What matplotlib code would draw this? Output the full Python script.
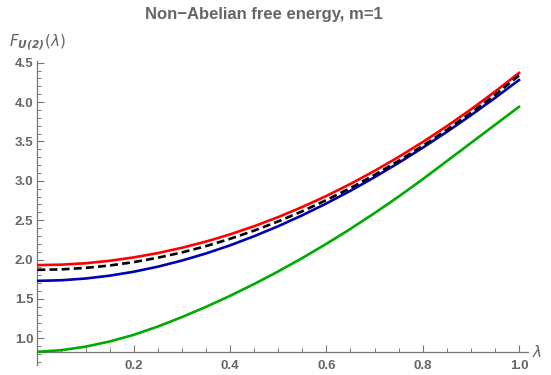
import matplotlib
matplotlib.use("Agg")
import matplotlib.pyplot as plt
from matplotlib.ticker import MultipleLocator, FixedLocator

lam = [0.0, 0.05, 0.1, 0.15, 0.2, 0.25, 0.3, 0.35, 0.4, 0.45, 0.5,
       0.55, 0.6, 0.65, 0.7, 0.75, 0.8, 0.85, 0.9, 0.95, 1.0]
red_vals = [1.93, 1.936, 1.954, 1.985, 2.028, 2.083, 2.15, 2.229, 2.32, 2.424, 2.54,
            2.668, 2.808, 2.961, 3.126, 3.303, 3.492, 3.693, 3.906, 4.132, 4.37]
black_vals = [1.87, 1.876, 1.895, 1.925, 1.968, 2.024, 2.091, 2.171, 2.264, 2.368, 2.485,
              2.614, 2.756, 2.909, 3.075, 3.254, 3.444, 3.647, 3.863, 4.09, 4.338]
blue_vals = [1.73, 1.738, 1.76, 1.796, 1.846, 1.91, 1.988, 2.078, 2.181, 2.297, 2.424,
             2.563, 2.713, 2.874, 3.046, 3.228, 3.42, 3.621, 3.832, 4.052, 4.28]
green_vals = [0.83, 0.85, 0.895, 0.96, 1.045, 1.15, 1.27, 1.40, 1.54, 1.69, 1.85,
              2.02, 2.20, 2.39, 2.59, 2.80, 3.02, 3.25, 3.48, 3.71, 3.94]

xticks = [0.2, 0.4, 0.6, 0.8, 1.0]
xticklabels = ["0.2", "0.4", "0.6", "0.8", "1.0"]
yticks = [1.0, 1.5, 2.0, 2.5, 3.0, 3.5, 4.0, 4.5]
yticklabels = ["1.0", "1.5", "2.0", "2.5", "3.0", "3.5", "4.0", "4.5"]

title = "Non\u2212Abelian free energy, m=1"
gray = "#666666"
axcol = "#777777"

fig = plt.figure(figsize=(5.51, 3.75), dpi=100)
ax = fig.add_axes([37.4 / 551, 1 - 365 / 375, (528 - 37.4) / 551, (365 - 61) / 375])
ax.set_xlim(0, (528 - 37.4) / 481.6)
ylo = 1.0 - (365 - 338.3) / 79.0
yhi = 4.5 + (62.7 - 61) / 79.0
ax.set_ylim(ylo, yhi)

lw = 1.9
ax.plot(lam, red_vals, color="#FF0000", lw=lw, zorder=3)
ax.plot(lam, blue_vals, color="#0000B4", lw=lw, zorder=3)
ax.plot(lam, black_vals, color="black", lw=lw, dashes=(3.0, 1.6), zorder=4)
ax.plot(lam, green_vals, color="#00AA00", lw=lw, zorder=3)

for s in ["top", "right"]:
    ax.spines[s].set_visible(False)
ax.spines["bottom"].set_position(("data", 0.827))
ax.spines["left"].set_position(("data", 0.0))
for s in ["bottom", "left"]:
    ax.spines[s].set_color(axcol)
    ax.spines[s].set_linewidth(0.9)
ax.spines["left"].set_bounds(ylo, yhi)

ax.xaxis.set_major_locator(FixedLocator(xticks))
ax.set_xticklabels(xticklabels)
ax.xaxis.set_minor_locator(MultipleLocator(0.05))
ax.yaxis.set_major_locator(FixedLocator(yticks))
ax.set_yticklabels(yticklabels)
ax.yaxis.set_minor_locator(MultipleLocator(0.1))

ax.tick_params(axis="both", which="major", direction="in", length=5, width=0.8,
               color=axcol, labelcolor=gray, labelsize=9.5)
ax.tick_params(axis="both", which="minor", direction="in", length=3, width=0.7, color=axcol)
ax.tick_params(axis="x", which="major", pad=6)
ax.tick_params(axis="y", which="major", pad=3)
for lab in ax.get_xticklabels() + ax.get_yticklabels():
    lab.set_fontweight("bold")
    lab.set_fontfamily("Liberation Sans")

fig.text(0.5 * (143 + 385) / 551, 1 - 15 / 375, title, ha="center", va="center",
         fontsize=12, fontweight="bold", color=gray, family="Liberation Sans")
fig.text(9 / 551, 1 - 42 / 375, r"$\mathit{F}_{\mathbfit{U(2)}}(\lambda)$", ha="left",
         va="center", fontsize=11, color=gray)
fig.text(532 / 551, 1 - 352 / 375, r"$\lambda$", ha="left", va="center",
         fontsize=11, color=gray)

fig.savefig("out.png", dpi=100)
